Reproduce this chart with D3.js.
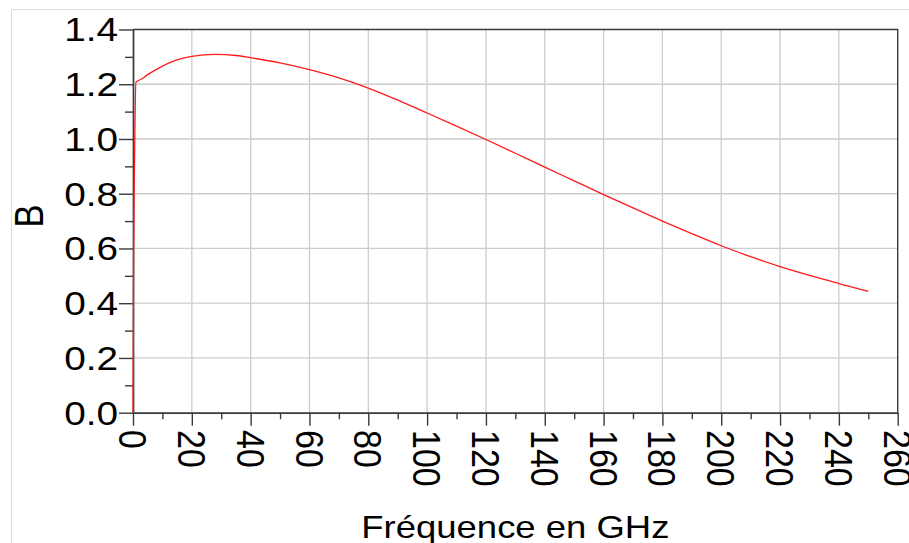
<!DOCTYPE html>
<html>
<head>
<meta charset="utf-8">
<script src="https://cdn.jsdelivr.net/npm/d3@7"></script>
<style>
  html, body { margin: 0; padding: 0; background: #fff; }
  svg { display: block; }
  text { font-family: "Liberation Sans", Arial, sans-serif; fill: #000; }
</style>
</head>
<body>
<svg id="chart" width="909" height="543"></svg>
<script>
// Susceptance B versus frequency (GHz)
const freqGHz = [0, 0.2, 0.5, 1.0, 2.9, 5, 8.6, 14.4, 20, 27.9, 35, 40, 50, 60, 70, 80, 90,
  100, 110, 120, 130, 140, 150, 160, 170, 180, 190, 200, 210, 220, 230, 240, 250];
const bValues = [0, 0.55, 0.9, 1.207, 1.219, 1.235, 1.258, 1.287, 1.302, 1.309, 1.305, 1.297,
  1.278, 1.253, 1.223, 1.186, 1.142, 1.095, 1.047, 0.998, 0.948, 0.897, 0.847, 0.797, 0.748,
  0.700, 0.654, 0.610, 0.570, 0.534, 0.502, 0.472, 0.443];

const xMajorTicks = [0, 20, 40, 60, 80, 100, 120, 140, 160, 180, 200, 220, 240, 260];
const xMinorTicks = [10, 30, 50, 70, 90, 110, 130, 150, 170, 190, 210, 230, 250];
const yMajorTicks = [0, 0.2, 0.4, 0.6, 0.8, 1.0, 1.2, 1.4];
const yMinorTicks = [0.1, 0.3, 0.5, 0.7, 0.9, 1.1, 1.3];

const xTitle = "Fréquence en GHz";
const yTitle = "B";

const svg = d3.select("#chart");
const plot = { left: 133, right: 897.7, top: 29.5, bottom: 412.7 };
const textStretch = 1.14;

const x = d3.scaleLinear().domain([0, 260]).range([plot.left, plot.right]);
const y = d3.scaleLinear().domain([0, 1.4]).range([plot.bottom, plot.top]);

// outer panel border
svg.append("rect")
  .attr("x", 11.5).attr("y", 9.5)
  .attr("width", 920).attr("height", 560)
  .attr("fill", "none").attr("stroke", "#dcdcdc").attr("stroke-width", 1);

// grid
const grid = svg.append("g").attr("stroke", "#cdcdcd").attr("stroke-width", 1.3);
grid.selectAll("line.gx").data(xMajorTicks.slice(1, -1)).join("line")
  .attr("x1", d => x(d)).attr("x2", d => x(d))
  .attr("y1", plot.top).attr("y2", plot.bottom);
grid.selectAll("line.gy").data(yMajorTicks.slice(1, -1)).join("line")
  .attr("x1", plot.left).attr("x2", plot.right)
  .attr("y1", d => y(d)).attr("y2", d => y(d));

// frame: top and right edges
svg.append("path")
  .attr("d", `M${plot.left},${plot.top}H${plot.right}V${plot.bottom}`)
  .attr("fill", "none").attr("stroke", "#3a3a3a").attr("stroke-width", 1.4);

// axes
function styleAxis(g) {
  g.select(".domain").attr("stroke", "#3a3a3a").attr("stroke-width", 1.4);
  g.selectAll(".tick line").attr("stroke", "#3a3a3a").attr("stroke-width", 1.4);
  g.selectAll(".tick text").remove();
}
svg.append("g").attr("transform", `translate(0,${plot.bottom})`)
  .call(d3.axisBottom(x).tickValues(xMinorTicks).tickSize(6.5).tickSizeOuter(0))
  .call(styleAxis);
svg.append("g").attr("transform", `translate(0,${plot.bottom})`)
  .call(d3.axisBottom(x).tickValues(xMajorTicks).tickSize(13).tickSizeOuter(0))
  .call(styleAxis);
svg.append("g").attr("transform", `translate(${plot.left},0)`)
  .call(d3.axisLeft(y).tickValues(yMinorTicks).tickSize(8).tickSizeOuter(0))
  .call(styleAxis);
svg.append("g").attr("transform", `translate(${plot.left},0)`)
  .call(d3.axisLeft(y).tickValues(yMajorTicks).tickSize(14).tickSizeOuter(0))
  .call(styleAxis);

// tick labels
const fmtY = d3.format(".1f");
svg.append("g").selectAll("text").data(yMajorTicks).join("text")
  .attr("transform", d => `translate(118,${y(d)}) scale(${textStretch},1)`)
  .attr("text-anchor", "end").attr("dy", "0.35em")
  .style("font-size", "34px")
  .text(d => fmtY(d));

svg.append("g").selectAll("text").data(xMajorTicks).join("text")
  .attr("transform", d => `translate(${x(d)},430) scale(${textStretch},1) rotate(90)`)
  .attr("text-anchor", "start").attr("dy", "0.36em")
  .style("font-size", "34px")
  .text(d => d);

// axis titles
svg.append("text")
  .attr("transform", `translate(${(plot.left + plot.right) / 2},538) scale(${textStretch},1)`)
  .attr("text-anchor", "middle")
  .style("font-size", "32px")
  .text(xTitle);

svg.append("text")
  .attr("transform", `translate(43,216) scale(${textStretch},1) rotate(-90)`)
  .attr("text-anchor", "middle")
  .style("font-size", "35px")
  .text(yTitle);

// curve
const line = d3.line()
  .x((d, i) => x(freqGHz[i]))
  .y(d => y(d))
  .curve(d3.curveMonotoneX);

svg.append("path")
  .datum(bValues)
  .attr("d", line)
  .attr("fill", "none")
  .attr("stroke", "#ff1a1a")
  .attr("stroke-width", 1.3);
</script>
</body>
</html>
